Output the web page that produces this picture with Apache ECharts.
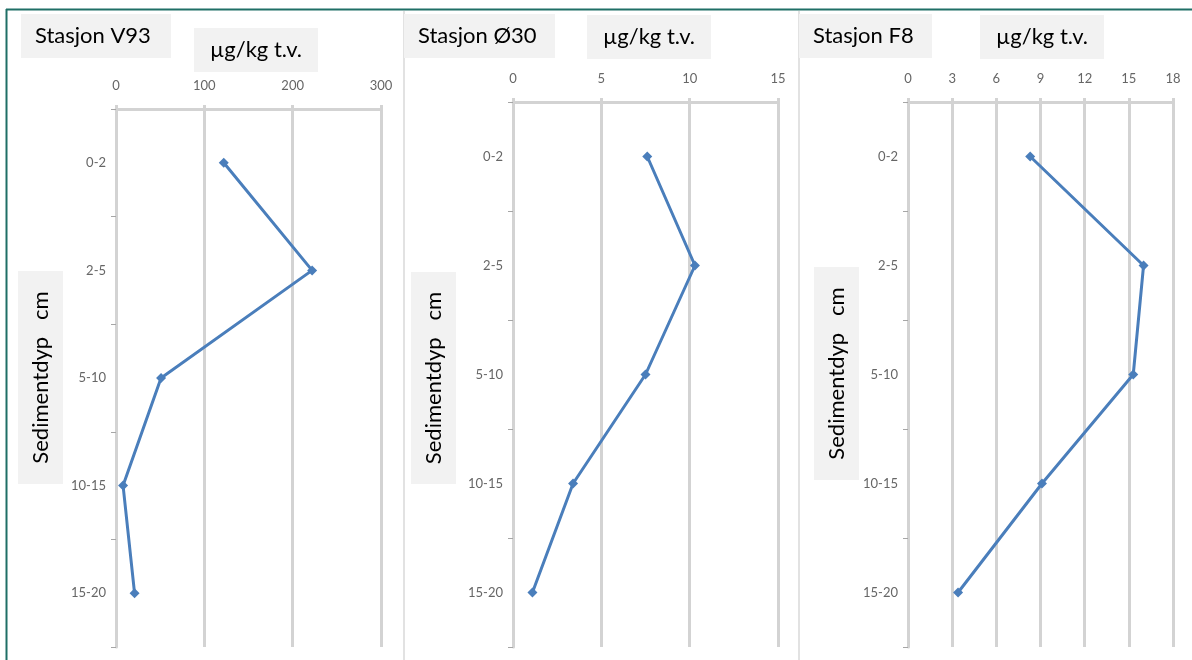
<!DOCTYPE html>
<html>
<head>
<meta charset="utf-8">
<script src="https://cdn.jsdelivr.net/npm/echarts@6/dist/echarts.min.js"></script>
<style>
html,body{margin:0;padding:0;background:#fff;}
#chart{width:1192px;height:660px;}
</style>
</head>
<body>
<div id="chart"></div>
<script>
// ---- data ----
const categories = ['0-2', '2-5', '5-10', '10-15', '15-20'];
const stationNames = ['Stasjon V93', 'Stasjon Ø30', 'Stasjon F8'];
const unitLabel = 'µg/kg t.v.';
const depthLabel = 'Sedimentdyp   cm';
const valuesV93 = [122, 222, 51, 8, 21];
const valuesO30 = [7.6, 10.3, 7.5, 3.4, 1.1];
const valuesF8 = [8.3, 16.0, 15.3, 9.1, 3.4];
const axisMaxV93 = 300, axisStepV93 = 100;
const axisMaxO30 = 15, axisStepO30 = 5;
const axisMaxF8 = 18, axisStepF8 = 3;

// ---- layout ----
const panels = [
  {grid: {left: 116, top: 109, width: 265, height: 538}, values: valuesV93, max: axisMaxV93, step: axisStepV93,
   titleBox: [21, 14, 150, 44], unitBox: [194, 28, 124, 44], depthBox: [18, 271, 45, 213]},
  {grid: {left: 513, top: 102, width: 265, height: 545}, values: valuesO30, max: axisMaxO30, step: axisStepO30,
   titleBox: [404, 14, 151, 44], unitBox: [587, 15, 124, 44], depthBox: [411, 272, 45, 212]},
  {grid: {left: 908, top: 102, width: 265, height: 545}, values: valuesF8, max: axisMaxF8, step: axisStepF8,
   titleBox: [799, 14, 133, 44], unitBox: [980, 15, 124, 44], depthBox: [814, 267, 45, 213]}
];

const GRID_COLOR = '#d3d3d3';
const LABEL_COLOR = '#666666';
const LINE_COLOR = '#4A7EBB';
const TEXT_FONT = 'Lato, "Open Sans", sans-serif';

const grids = [], xAxes = [], yAxes = [], series = [], graphics = [];

// frame and dividers
graphics.push({type: 'line', shape: {x1: 6, y1: 9.5, x2: 1192, y2: 9.5}, style: {stroke: '#1f6f66', lineWidth: 2}, z: 10});
graphics.push({type: 'line', shape: {x1: 6.5, y1: 9, x2: 6.5, y2: 660}, style: {stroke: '#1f6f66', lineWidth: 2}, z: 10});
graphics.push({type: 'line', shape: {x1: 404, y1: 11, x2: 404, y2: 660}, style: {stroke: '#d9d9d9', lineWidth: 1.5}, z: 1});
graphics.push({type: 'line', shape: {x1: 799, y1: 11, x2: 799, y2: 660}, style: {stroke: '#d9d9d9', lineWidth: 1.5}, z: 1});

panels.forEach((p, i) => {
  grids.push(Object.assign({containLabel: false}, p.grid));
  xAxes.push({
    type: 'value', gridIndex: i, position: 'top', min: 0, max: p.max, interval: p.step,
    axisLine: {show: true, lineStyle: {color: GRID_COLOR, width: 3}},
    axisTick: {show: true, length: 4, lineStyle: {color: GRID_COLOR, width: 3}},
    splitLine: {show: true, lineStyle: {color: GRID_COLOR, width: 3}},
    axisLabel: {color: LABEL_COLOR, fontSize: 13, fontFamily: TEXT_FONT, margin: 17}
  });
  yAxes.push({
    type: 'category', gridIndex: i, data: categories, inverse: true, boundaryGap: true,
    axisLine: {show: true, lineStyle: {color: GRID_COLOR, width: 3}},
    axisTick: {show: true, length: 5, alignWithLabel: false, lineStyle: {color: '#a6a6a6', width: 1}},
    splitLine: {show: false},
    axisLabel: {color: LABEL_COLOR, fontSize: 13, fontFamily: TEXT_FONT, margin: 10}
  });
  series.push({
    type: 'line', xAxisIndex: i, yAxisIndex: i, data: p.values,
    symbol: 'diamond', symbolSize: 10, showSymbol: true,
    lineStyle: {color: LINE_COLOR, width: 3},
    itemStyle: {color: LINE_COLOR},
    animation: false, z: 5
  });
  // title box
  const tb = p.titleBox;
  graphics.push({type: 'rect', shape: {x: tb[0], y: tb[1], width: tb[2], height: tb[3]}, style: {fill: '#f2f2f2'}, z: 2});
  graphics.push({type: 'text', x: tb[0] + 14, y: tb[1] + tb[3] / 2, z: 3,
    style: {text: stationNames[i], fill: '#000', font: '22px ' + TEXT_FONT, verticalAlign: 'middle'}});
  const ub = p.unitBox;
  graphics.push({type: 'rect', shape: {x: ub[0], y: ub[1], width: ub[2], height: ub[3]}, style: {fill: '#f2f2f2'}, z: 2});
  graphics.push({type: 'text', x: ub[0] + ub[2] / 2, y: ub[1] + ub[3] / 2, z: 3,
    style: {text: unitLabel, fill: '#000', font: '22px ' + TEXT_FONT, align: 'center', verticalAlign: 'middle'}});
  const db = p.depthBox;
  graphics.push({type: 'rect', shape: {x: db[0], y: db[1], width: db[2], height: db[3]}, style: {fill: '#f2f2f2'}, z: 2});
  graphics.push({type: 'text', x: db[0] + db[2] / 2, y: db[1] + db[3] / 2, rotation: Math.PI / 2, z: 3,
    style: {text: depthLabel, fill: '#000', font: '22px ' + TEXT_FONT, align: 'center', verticalAlign: 'middle'}});
});

const chart = echarts.init(document.getElementById('chart'), null, {renderer: 'canvas'});
chart.setOption({
  backgroundColor: '#ffffff',
  animation: false,
  grid: grids,
  xAxis: xAxes,
  yAxis: yAxes,
  series: series,
  graphic: graphics
});
</script>
</body>
</html>
